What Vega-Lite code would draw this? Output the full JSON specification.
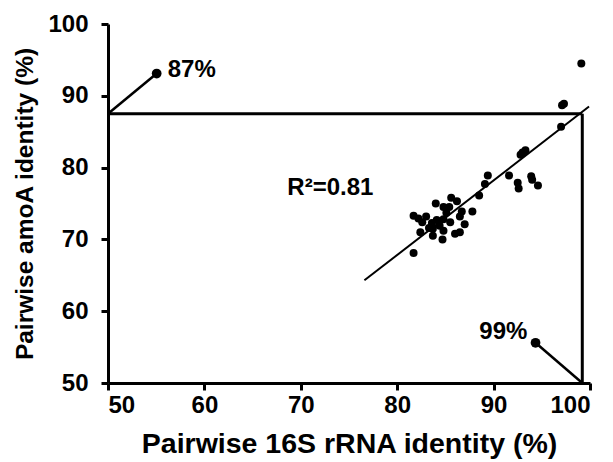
{
  "$schema": "https://vega.github.io/schema/vega-lite/v6.json",
  "autosize": {"type": "none"},
  "padding": {"left": 108, "top": 24, "right": 23, "bottom": 79},
  "width": 482,
  "height": 359,
  "background": "white",
  "config": {
    "view": {"stroke": null},
    "font": "Liberation Sans",
    "axis": {
      "grid": false,
      "domainColor": "black",
      "domainWidth": 3,
      "tickColor": "black",
      "tickWidth": 3,
      "tickSize": 7,
      "labelFont": "Liberation Sans",
      "labelFontWeight": "bold",
      "labelFontSize": 24,
      "labelColor": "black",
      "titleFont": "Liberation Sans",
      "titleFontWeight": "bold",
      "titleColor": "black"
    }
  },
  "datasets": {
    "pts": [
      {"x": 99.1, "y": 94.5}, {"x": 97.1, "y": 88.7}, {"x": 97.3, "y": 88.9}, {"x": 97.0, "y": 85.7},
      {"x": 92.8, "y": 81.8}, {"x": 93.3, "y": 82.4}, {"x": 93.0, "y": 82.1}, {"x": 91.6, "y": 78.9},
      {"x": 89.4, "y": 78.9}, {"x": 89.1, "y": 77.7}, {"x": 92.5, "y": 77.9}, {"x": 92.6, "y": 77.1},
      {"x": 93.9, "y": 78.8}, {"x": 94.0, "y": 78.3}, {"x": 94.6, "y": 77.5}, {"x": 88.5, "y": 76.1},
      {"x": 85.6, "y": 75.8}, {"x": 86.2, "y": 75.3}, {"x": 84.0, "y": 75.0}, {"x": 84.8, "y": 74.5},
      {"x": 85.4, "y": 74.5}, {"x": 85.1, "y": 73.7}, {"x": 86.7, "y": 73.9}, {"x": 87.8, "y": 73.9},
      {"x": 86.5, "y": 73.2}, {"x": 81.7, "y": 73.3}, {"x": 82.2, "y": 72.9}, {"x": 83.0, "y": 73.2},
      {"x": 82.6, "y": 72.4}, {"x": 83.6, "y": 72.3}, {"x": 84.1, "y": 72.7}, {"x": 84.8, "y": 72.8},
      {"x": 85.5, "y": 72.4}, {"x": 84.4, "y": 71.9}, {"x": 83.7, "y": 71.5}, {"x": 83.3, "y": 71.6},
      {"x": 84.8, "y": 71.2}, {"x": 87.0, "y": 72.1}, {"x": 82.4, "y": 71.0}, {"x": 83.7, "y": 70.5},
      {"x": 86.0, "y": 70.8}, {"x": 86.5, "y": 71.0}, {"x": 84.7, "y": 70.0}, {"x": 81.7, "y": 68.1}
    ],
    "frame": [
      {"x": 50, "y": 87.5, "x2": 99.2, "y2": 87.5},
      {"x": 99.2, "y": 87.5, "x2": 99.2, "y2": 50}
    ],
    "callouts": [
      {"x": 50, "y": 87.5, "x2": 55.05, "y2": 93.1},
      {"x": 94.35, "y": 55.6, "x2": 99.2, "y2": 50}
    ],
    "callpts": [
      {"x": 55.05, "y": 93.1},
      {"x": 94.35, "y": 55.6}
    ],
    "fit": [
      {"x": 76.6, "y": 64.3, "x2": 99.9, "y2": 88.5}
    ]
  },
  "encoding": {
    "x": {"field": "x", "type": "quantitative", "scale": {"domain": [50, 100], "nice": false, "zero": false},
      "axis": {"values": [50, 60, 70, 80, 90, 100], "title": "Pairwise 16S rRNA identity (%)", "labelPadding": 3, "titleFontSize": 28.5, "titlePadding": 12}},
    "y": {"field": "y", "type": "quantitative", "scale": {"domain": [50, 100], "nice": false, "zero": false},
      "axis": {"values": [50, 60, 70, 80, 90, 100], "title": "Pairwise amoA identity (%)", "labelPadding": 13, "titleFontSize": 24.5, "titlePadding": 10}}
  },
  "layer": [
    {
      "data": {"name": "frame"},
      "mark": {"type": "rule", "color": "black", "strokeWidth": 3},
      "encoding": {"x2": {"field": "x2"}, "y2": {"field": "y2"}}
    },
    {
      "data": {"name": "callouts"},
      "mark": {"type": "rule", "color": "black", "strokeWidth": 2.5},
      "encoding": {"x2": {"field": "x2"}, "y2": {"field": "y2"}}
    },
    {
      "data": {"name": "fit"},
      "mark": {"type": "rule", "color": "black", "strokeWidth": 2},
      "encoding": {"x2": {"field": "x2"}, "y2": {"field": "y2"}}
    },
    {
      "data": {"name": "pts"},
      "mark": {"type": "circle", "color": "black", "opacity": 1, "size": 64}
    },
    {
      "data": {"name": "callpts"},
      "mark": {"type": "circle", "color": "black", "opacity": 1, "size": 95}
    },
    {
      "data": {"values": [{"x": 56.2, "y": 93.6, "t": "87%"}]},
      "mark": {"type": "text", "align": "left", "baseline": "middle", "font": "Liberation Sans", "fontWeight": "bold", "fontSize": 24, "color": "black"},
      "encoding": {"text": {"field": "t"}}
    },
    {
      "data": {"values": [{"x": 93.5, "y": 57.1, "t": "99%"}]},
      "mark": {"type": "text", "align": "right", "baseline": "middle", "font": "Liberation Sans", "fontWeight": "bold", "fontSize": 24, "color": "black"},
      "encoding": {"text": {"field": "t"}}
    },
    {
      "data": {"values": [{"x": 68.6, "y": 77.2, "t": "R²=0.81"}]},
      "mark": {"type": "text", "align": "left", "baseline": "middle", "font": "Liberation Sans", "fontWeight": "bold", "fontSize": 24, "color": "black"},
      "encoding": {"text": {"field": "t"}}
    }
  ]
}
